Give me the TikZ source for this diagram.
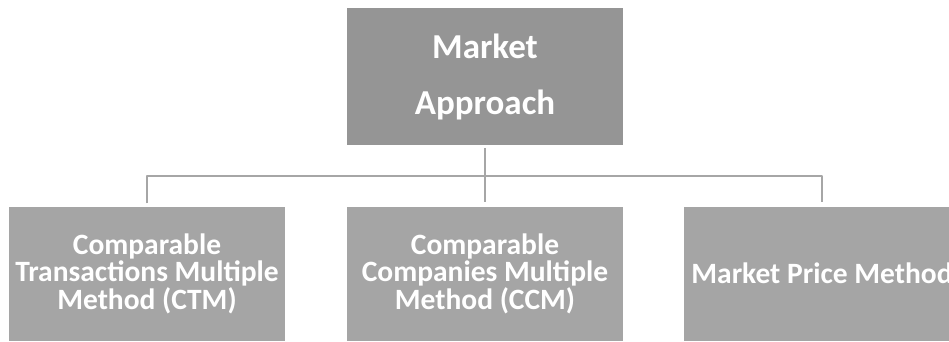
\documentclass[tikz,border=0pt]{standalone}
\usepackage{fontspec}
\setmainfont{Carlito}
\definecolor{topgray}{HTML}{959595}
\definecolor{boxgray}{HTML}{A5A5A5}
\definecolor{linegray}{HTML}{A6A6A6}
\tikzset{
	headbox/.style={fill=topgray,text=white,font=\bfseries\fontsize{35}{56}\selectfont,minimum width=276pt,minimum height=137pt,align=center,inner sep=0pt},
	methodbox/.style={fill=boxgray,text=white,font=\bfseries\fontsize{29.5}{27.5}\selectfont,minimum width=276pt,minimum height=134pt,align=center,inner sep=0pt},
	link/.style={draw=linegray,line width=2pt,shorten <=3pt,shorten >=4pt}
}
\begin{document}
\begin{tikzpicture}[x=1pt,y=-1pt,line join=round]
			\def\W{949}
			\def\H{341}
			\useasboundingbox (0,0) rectangle (\W,\H);
			\node [headbox] (market) at (485,76.5) {Market\\Approach};
			\node [methodbox] (ctm) at (147,273.5) {Comparable\\Transactions Multiple\\Method (CTM)};
			\node [methodbox] (ccm) at (485,273.5) {Comparable\\Companies Multiple\\Method (CCM)};
			\node [methodbox] (mpm) at (822,273.5) {Market Price Method};
			\coordinate (bus) at (485,176);
			\draw [link] (market) -- (ccm);
			\draw [link] (ctm.north) |- (bus) -| (mpm.north);
		\end{tikzpicture}
\end{document}
